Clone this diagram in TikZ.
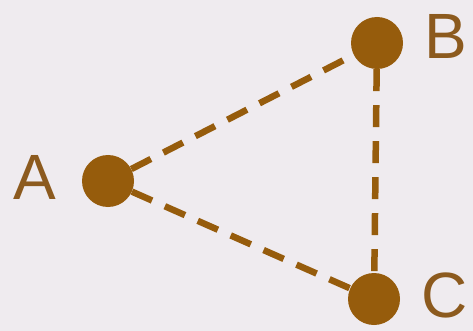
\documentclass[tikz,border=0pt]{standalone}
\usepackage{fontspec}
\setmainfont{Liberation Sans}
\definecolor{bg}{RGB}{239,235,239}
\definecolor{brn}{RGB}{150,92,12}
\definecolor{lbl}{RGB}{140,90,30}
\begin{document}
\begin{tikzpicture}[x=1pt,y=-1pt,
  dot/.style={circle,fill=brn,draw=none,minimum size=52pt,inner sep=0pt},
  lab/.style={text=lbl,font=\fontsize{64}{64}\selectfont,inner sep=0pt,anchor=center},
  conn/.style={draw=brn,line width=6.5pt,dash pattern=on 22pt off 14pt}]
\fill[bg] (0,0) rectangle (473,331);
\useasboundingbox (0,0) rectangle (473,331);
\node[dot] (A) at (108,181) {};
\node[dot] (B) at (377,43) {};
\node[dot] (C) at (374,299) {};
\node[lab] (la) at (35,177) {A};
\node[lab] (lb) at (446,36) {B};
\node[lab] (lc) at (445,295) {C};
\draw[conn] (A) -- (B);
\draw[conn] (A) -- (C);
\draw[conn] (B) -- (C);
\end{tikzpicture}
\end{document}
